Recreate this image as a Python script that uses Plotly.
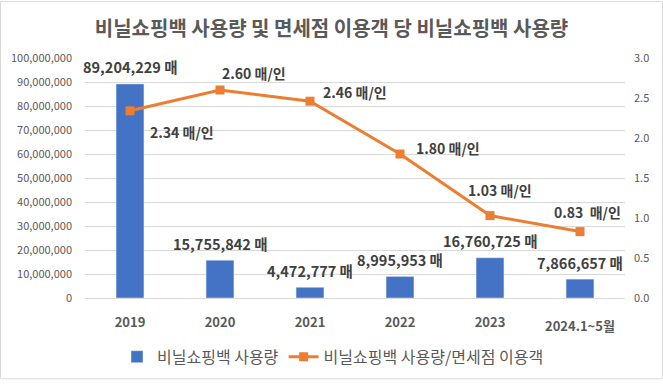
import plotly.graph_objects as go

categories = ["2019", "2020", "2021", "2022", "2023", "2024.1~5월"]
bag_usage = [89204229, 15755842, 4472777, 8995953, 16760725, 7866657]
per_visitor = [2.34, 2.60, 2.46, 1.80, 1.03, 0.83]
bar_labels = ["89,204,229 매", "15,755,842 매", "4,472,777 매", "8,995,953 매", "16,760,725 매", "7,866,657 매"]
line_labels = ["2.34 매/인", "2.60 매/인", "2.46 매/인", "1.80 매/인", "1.03 매/인", "0.83  매/인"]
left_ticks = list(range(0, 100000001, 10000000))
right_ticks = [0.0, 0.5, 1.0, 1.5, 2.0, 2.5, 3.0]

FONT = "Noto Sans CJK KR"
GRAY = "#595959"
DARK = "#404040"
BLUE = "#4472C4"
ORANGE = "#ED7D31"

fig = go.Figure()
fig.add_trace(go.Bar(
    x=categories, y=bag_usage, name="비닐쇼핑백 사용량",
    marker=dict(color=BLUE), width=0.31, yaxis="y",
))
fig.add_trace(go.Scatter(
    x=categories, y=per_visitor, name="비닐쇼핑백 사용량/면세점 이용객",
    mode="lines+markers", line=dict(color=ORANGE, width=3),
    marker=dict(symbol="square", size=9, color=ORANGE), yaxis="y2",
))

# bar labels (x given as category index)
for i, (v, t) in enumerate(zip(bag_usage, bar_labels)):
    fig.add_annotation(x=i, y=v, xref="x", yref="y", text=t, showarrow=False,
                       yanchor="middle", yshift=17,
                       font=dict(family=FONT, size=14.5, color=DARK, weight="bold"))

# line labels offsets (pixel)
offsets = [(52, -21), (34, 17), (45, 9), (48, 6), (10, 26), (7, 20)]
for i, (v, t, (dx, dy)) in enumerate(zip(per_visitor, line_labels, offsets)):
    fig.add_annotation(x=i, y=v, xref="x", yref="y2", text=t, showarrow=False,
                       xshift=dx, yshift=dy,
                       font=dict(family=FONT, size=14, color=DARK, weight="bold"))

L, R, T, B = 85, 38, 58, 83
W, H = 663, 386
pw, ph = W - L - R, H - T - B

# last category label sits a little lower in the reference
tick_font = dict(family=FONT, size=13, color=GRAY, weight="bold")
fig.add_annotation(x=len(categories) - 1, y=0, xref="x", yref="paper",
                   text=categories[-1], showarrow=False, yanchor="middle",
                   yshift=-27, font=tick_font)

fig.add_shape(type="rect", xref="paper", yref="paper",
              x0=(0.5 - L) / pw, x1=(W - 0.5 - L) / pw,
              y0=(H - B - (H - 0.5)) / ph, y1=(H - B - 0.5) / ph,
              line=dict(color="#d9d9d9", width=1), fillcolor="rgba(0,0,0,0)", layer="below")

fig.update_layout(
    width=W, height=H,
    margin=dict(l=L, r=R, t=T, b=B),
    paper_bgcolor="white", plot_bgcolor="white",
    font=dict(family=FONT, color=GRAY),
    title=dict(text="비닐쇼핑백 사용량 및 면세점 이용객 당 비닐쇼핑백 사용량",
               x=0.5, xanchor="center", y=1 - 29 / H, yanchor="middle",
               font=dict(family=FONT, size=20, color=GRAY, weight="bold")),
    showlegend=True,
    legend=dict(orientation="h", x=(333 - L) / pw, xanchor="center",
                y=(H - B - 363) / ph, yanchor="middle",
                font=dict(family=FONT, size=16, color=GRAY), itemwidth=30),
    xaxis=dict(type="category", range=[-0.5, 5.5], showgrid=False, showline=True,
               linecolor="#d9d9d9",
               tickvals=categories[:-1], ticktext=categories[:-1],
               ticks="", tickfont=tick_font, ticklabelstandoff=12),
    yaxis=dict(range=[0, 100000000], tickvals=left_ticks,
               ticktext=[f"{v:,}" for v in left_ticks],
               showgrid=True, gridcolor="#d9d9d9", gridwidth=1,
               zeroline=False, showline=False, ticks="",
               tickfont=dict(family=FONT, size=11, color=GRAY), ticklabelstandoff=12),
    yaxis2=dict(range=[0, 3], tickvals=right_ticks,
                ticktext=[f"{v:.1f}" for v in right_ticks],
                overlaying="y", side="right", showgrid=False, zeroline=False,
                showline=False, ticks="",
                tickfont=dict(family=FONT, size=11, color=GRAY), ticklabelstandoff=8),
)

fig.write_html("out.html", config={"displayModeBar": False},
               post_script="document.body.style.margin='0';")
